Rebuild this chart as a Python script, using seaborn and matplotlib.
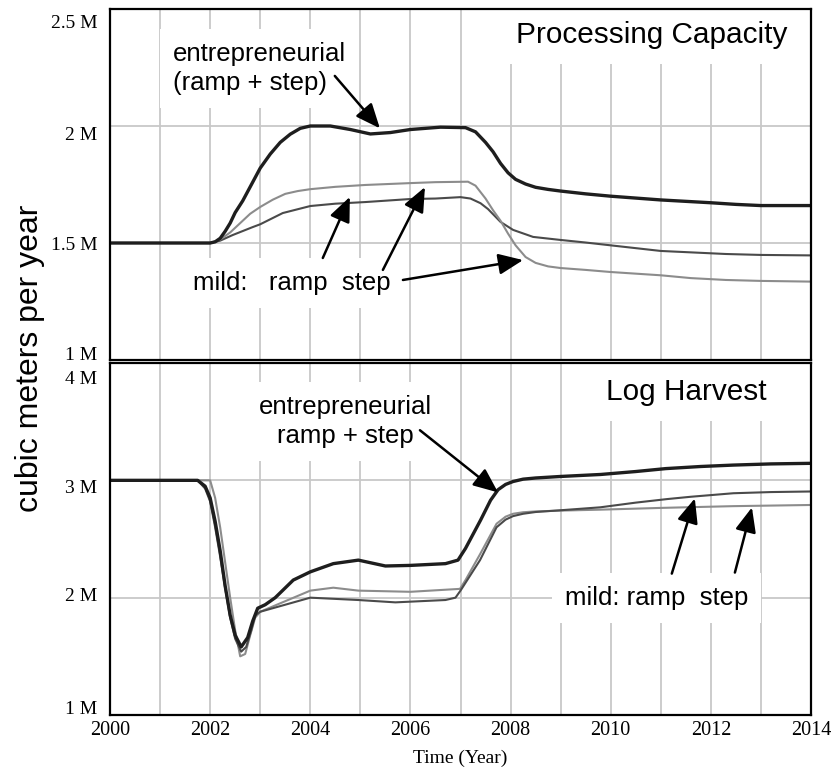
import numpy as np
import pandas as pd
import matplotlib
matplotlib.use("Agg")
import matplotlib.pyplot as plt
import matplotlib.transforms as mtransforms
import seaborn as sns

# ---------------- data ----------------
# Processing Capacity (million m3 / year)
pc_ent_t = [2000, 2002.0, 2002.1, 2002.2, 2002.3, 2002.4, 2002.5, 2002.65, 2002.8, 2003.0,
            2003.2, 2003.4, 2003.6, 2003.8, 2004.0, 2004.4, 2004.8, 2005.2, 2005.6, 2006.0,
            2006.6, 2007.1, 2007.3, 2007.5, 2007.65, 2007.8, 2007.95, 2008.1, 2008.3, 2008.5,
            2008.75, 2009.0, 2009.5, 2010.0, 2010.5, 2011.0, 2011.5, 2012.0, 2012.5, 2013.0, 2014.0]
pc_ent_v = [1.5, 1.5, 1.505, 1.52, 1.55, 1.585, 1.63, 1.68, 1.74, 1.82,
            1.88, 1.93, 1.965, 1.99, 2.0, 2.0, 1.985, 1.966, 1.972, 1.985,
            1.995, 1.993, 1.975, 1.93, 1.89, 1.84, 1.80, 1.772, 1.752, 1.738,
            1.729, 1.722, 1.71, 1.70, 1.692, 1.684, 1.678, 1.672, 1.665, 1.66, 1.66]

pc_step_t = [2000, 2002.0, 2002.2, 2002.4, 2002.6, 2002.8, 2003.0, 2003.25, 2003.5, 2003.75,
             2004.0, 2004.5, 2005.1, 2006.0, 2006.5, 2007.15, 2007.3, 2007.5, 2007.65, 2007.8,
             2007.95, 2008.1, 2008.3, 2008.5, 2008.75, 2009.0, 2009.5, 2010.0, 2011.0, 2011.6,
             2012.3, 2013.0, 2014.0]
pc_step_v = [1.5, 1.5, 1.515, 1.545, 1.585, 1.625, 1.654, 1.685, 1.71, 1.722,
             1.73, 1.74, 1.748, 1.756, 1.76, 1.762, 1.745, 1.69, 1.64, 1.595,
             1.54, 1.49, 1.44, 1.415, 1.40, 1.393, 1.385, 1.376, 1.362, 1.35,
             1.342, 1.338, 1.335]

pc_ramp_t = [2000, 2002.0, 2002.2, 2002.45, 2002.85, 2003.0, 2003.45, 2004.0, 2004.5, 2005.1,
             2006.0, 2006.5, 2007.0, 2007.2, 2007.4, 2007.55, 2007.8, 2008.05, 2008.45, 2009.0,
             2009.5, 2010.0, 2011.0, 2011.6, 2012.3, 2013.0, 2014.0]
pc_ramp_v = [1.5, 1.5, 1.51, 1.534, 1.568, 1.58, 1.628, 1.658, 1.668, 1.675,
             1.688, 1.69, 1.696, 1.69, 1.67, 1.645, 1.59, 1.556, 1.526, 1.513,
             1.502, 1.49, 1.466, 1.46, 1.453, 1.449, 1.447]

# Log Harvest (million m3 / year)
lh_ent_t = [2000, 2001.75, 2001.9, 2002.0, 2002.1, 2002.2, 2002.3, 2002.4, 2002.5, 2002.62,
            2002.75, 2002.85, 2002.95, 2003.1, 2003.3, 2003.66, 2004.0, 2004.46, 2004.96, 2005.5,
            2006.0, 2006.7, 2006.95, 2007.1, 2007.4, 2007.6, 2007.75, 2007.9, 2008.05, 2008.25,
            2008.5, 2009.0, 2009.8, 2010.5, 2011.1, 2011.8, 2012.45, 2013.2, 2014.0]
lh_ent_v = [3.0, 3.0, 2.95, 2.85, 2.65, 2.4, 2.1, 1.85, 1.68, 1.58,
            1.66, 1.8, 1.91, 1.94, 2.0, 2.15, 2.22, 2.29, 2.32, 2.27,
            2.275, 2.29, 2.32, 2.42, 2.66, 2.83, 2.92, 2.965, 2.99, 3.01,
            3.02, 3.033, 3.05, 3.075, 3.10, 3.118, 3.13, 3.14, 3.145]

lh_step_t = [2000, 2002.0, 2002.1, 2002.2, 2002.3, 2002.4, 2002.5, 2002.6, 2002.7, 2002.8,
             2002.9, 2003.0, 2003.5, 2004.0, 2004.46, 2004.96, 2006.0, 2006.99, 2007.1, 2007.39,
             2007.72, 2007.9, 2008.05, 2008.25, 2008.5, 2009.0, 2009.79, 2011.0, 2012.45, 2014.0]
lh_step_v = [3.0, 3.0, 2.85, 2.6, 2.3, 2.0, 1.72, 1.5, 1.52, 1.68,
             1.83, 1.88, 1.97, 2.06, 2.085, 2.06, 2.05, 2.075, 2.15, 2.37,
             2.63, 2.69, 2.715, 2.728, 2.735, 2.742, 2.75, 2.765, 2.78, 2.79]

lh_ramp_t = [2000, 2001.75, 2001.9, 2002.0, 2002.1, 2002.2, 2002.3, 2002.4, 2002.5, 2002.62,
             2002.72, 2002.82, 2002.9, 2003.0, 2003.5, 2004.0, 2004.96, 2005.7, 2006.7, 2006.9,
             2007.0, 2007.39, 2007.72, 2007.9, 2008.05, 2008.25, 2008.5, 2009.0, 2009.79, 2010.5,
             2011.12, 2011.6, 2012.45, 2013.2, 2014.0]
lh_ramp_v = [3.0, 3.0, 2.93, 2.82, 2.6, 2.35, 2.08, 1.83, 1.65, 1.54,
             1.58, 1.72, 1.85, 1.88, 1.94, 2.0, 1.98, 1.96, 1.98, 2.0,
             2.06, 2.32, 2.60, 2.665, 2.695, 2.715, 2.73, 2.745, 2.77, 2.81,
             2.84, 2.86, 2.89, 2.90, 2.905]

x_ticks = [2000, 2002, 2004, 2006, 2008, 2010, 2012, 2014]
pc_yticks = [1.0, 1.5, 2.0, 2.5]
pc_ylabels = ["1 M", "1.5 M", "2 M", "2.5 M"]
lh_yticks = [1.0, 2.0, 3.0, 4.0]
lh_ylabels = ["1 M", "2 M", "3 M", "4 M"]

# ---------------- styling ----------------
sns.set_theme(style="white")
plt.rcParams["font.family"] = ["Liberation Sans", "DejaVu Sans"]
plt.rcParams["text.color"] = "black"
plt.rcParams["axes.labelcolor"] = "black"
plt.rcParams["xtick.color"] = "black"
plt.rcParams["ytick.color"] = "black"

C_ENT = "#1e1e1e"
C_RAMP = "#4a4a4a"
C_STEP = "#8c8c8c"
GRID = "#c8c8c8"
SERIF = ["Liberation Serif", "DejaVu Serif"]

fig = plt.figure(figsize=(8.34, 7.70), dpi=100)
W, H = 834, 770
ax1 = fig.add_axes([110 / W, 1 - 360 / H, 701 / W, 351 / H])
ax2 = fig.add_axes([110 / W, 1 - 715 / H, 701 / W, 352 / H])


def draw(ax, series):
    for t, v, c, lw, z in series:
        df = pd.DataFrame({"t": t, "v": v})
        sns.lineplot(data=df, x="t", y="v", ax=ax, color=c, linewidth=lw,
                     zorder=z, legend=False, estimator=None, sort=False)


draw(ax1, [(pc_ramp_t, pc_ramp_v, C_RAMP, 1.5, 3),
           (pc_step_t, pc_step_v, C_STEP, 1.5, 3),
           (pc_ent_t, pc_ent_v, C_ENT, 2.4, 4)])
draw(ax2, [(lh_step_t, lh_step_v, C_STEP, 1.5, 3),
           (lh_ramp_t, lh_ramp_v, C_RAMP, 1.5, 3),
           (lh_ent_t, lh_ent_v, C_ENT, 2.4, 4)])

ax1.set_ylim(1.0, 2.5)
ax2.set_ylim(1.0, 4.0)
for ax in (ax1, ax2):
    ax.set_xlim(2000, 2014)
    ax.set_xticks(x_ticks)
    ax.set_xticks(np.arange(2000, 2015, 1), minor=True)
    ax.grid(True, which="both", axis="x", color=GRID, lw=1.3, zorder=0)
    ax.grid(True, which="major", axis="y", color=GRID, lw=1.3, zorder=0)
    ax.set_axisbelow(True)
    ax.tick_params(which="both", length=0, colors="black")
    ax.tick_params(axis="y", pad=9)
    ax.set_xlabel("")
    ax.set_ylabel("")
    for s in ax.spines.values():
        s.set_color("black")
        s.set_linewidth(1.6)
        s.set_visible(True)
        s.set_zorder(10)

ax1.set_yticks(pc_yticks)
ax1.set_yticklabels(pc_ylabels, family=SERIF, fontsize=14)
ax2.set_yticks(lh_yticks)
ax2.set_yticklabels(lh_ylabels, family=SERIF, fontsize=14)
ax1.set_xticklabels([])
ax2.set_xticklabels([str(x) for x in x_ticks], family=SERIF, fontsize=14.5)
ax2.tick_params(axis="x", pad=4)
ax2.set_xlabel("Time (Year)", family=SERIF, fontsize=14, labelpad=7, color="black")

# Vensim-like label placement: top label nudged down, bottom label nudged up
for ax, offs in ((ax1, [-6, 1, 7, 13]), (ax2, [-7, -3, 6, 14])):
    for lab, d in zip(ax.get_yticklabels(), offs):
        lab.set_transform(lab.get_transform() +
                          mtransforms.ScaledTranslation(0, -d / 100, fig.dpi_scale_trans))

fig.text(30 / W, 1 - 358 / H, "cubic meters per year", rotation=90,
         fontsize=23, ha="center", va="center", color="black")

box = dict(boxstyle="square,pad=0.5", fc="white", ec="none")
AFS = 18.5
TFS = 21.4
arrow = dict(arrowstyle="-|>,head_length=0.75,head_width=0.32", mutation_scale=20,
             lw=1.8, color="black", shrinkA=0, shrinkB=0)

# ---- top panel annotations ----
ax1.text(0.967, 0.926, "Processing Capacity", transform=ax1.transAxes,
         fontsize=TFS, ha="right", va="center", bbox=box, zorder=5, color="black")
ax1.text(2001.26, 2.246, "entrepreneurial\n(ramp + step)", fontsize=AFS,
         ha="left", va="center", linespacing=1.25, bbox=box, zorder=5, color="black")
ax1.annotate("", xy=(2005.39, 1.99), xytext=(2004.49, 2.214), arrowprops=arrow, zorder=6)
ax1.text(2001.66, 1.33, "mild:   ramp  step", fontsize=AFS, ha="left", va="center",
         bbox=box, zorder=5, color="black")
ax1.annotate("", xy=(2004.79, 1.697), xytext=(2004.25, 1.436), arrowprops=arrow, zorder=6)
ax1.annotate("", xy=(2006.29, 1.739), xytext=(2005.45, 1.385), arrowprops=arrow, zorder=6)
ax1.annotate("", xy=(2008.25, 1.427), xytext=(2005.85, 1.342), arrowprops=arrow, zorder=6)

# ---- bottom panel annotations ----
ax2.text(0.937, 0.918, "Log Harvest", transform=ax2.transAxes,
         fontsize=TFS, ha="right", va="center", bbox=box, zorder=5, color="black")
ax2.text(2004.71, 3.5, "entrepreneurial\nramp + step", fontsize=AFS,
         ha="center", va="center", linespacing=1.25, bbox=box, zorder=5, color="black")
ax2.annotate("", xy=(2007.75, 2.897), xytext=(2006.19, 3.427), arrowprops=arrow, zorder=6)
ax2.text(2009.09, 2.0, "mild: ramp  step", fontsize=AFS, ha="left", va="center",
         bbox=box, zorder=5, color="black")
ax2.annotate("", xy=(2011.68, 2.846), xytext=(2011.22, 2.205), arrowprops=arrow, zorder=6)
ax2.annotate("", xy=(2012.82, 2.769), xytext=(2012.48, 2.214), arrowprops=arrow, zorder=6)

fig.savefig("out.png", dpi=100)
